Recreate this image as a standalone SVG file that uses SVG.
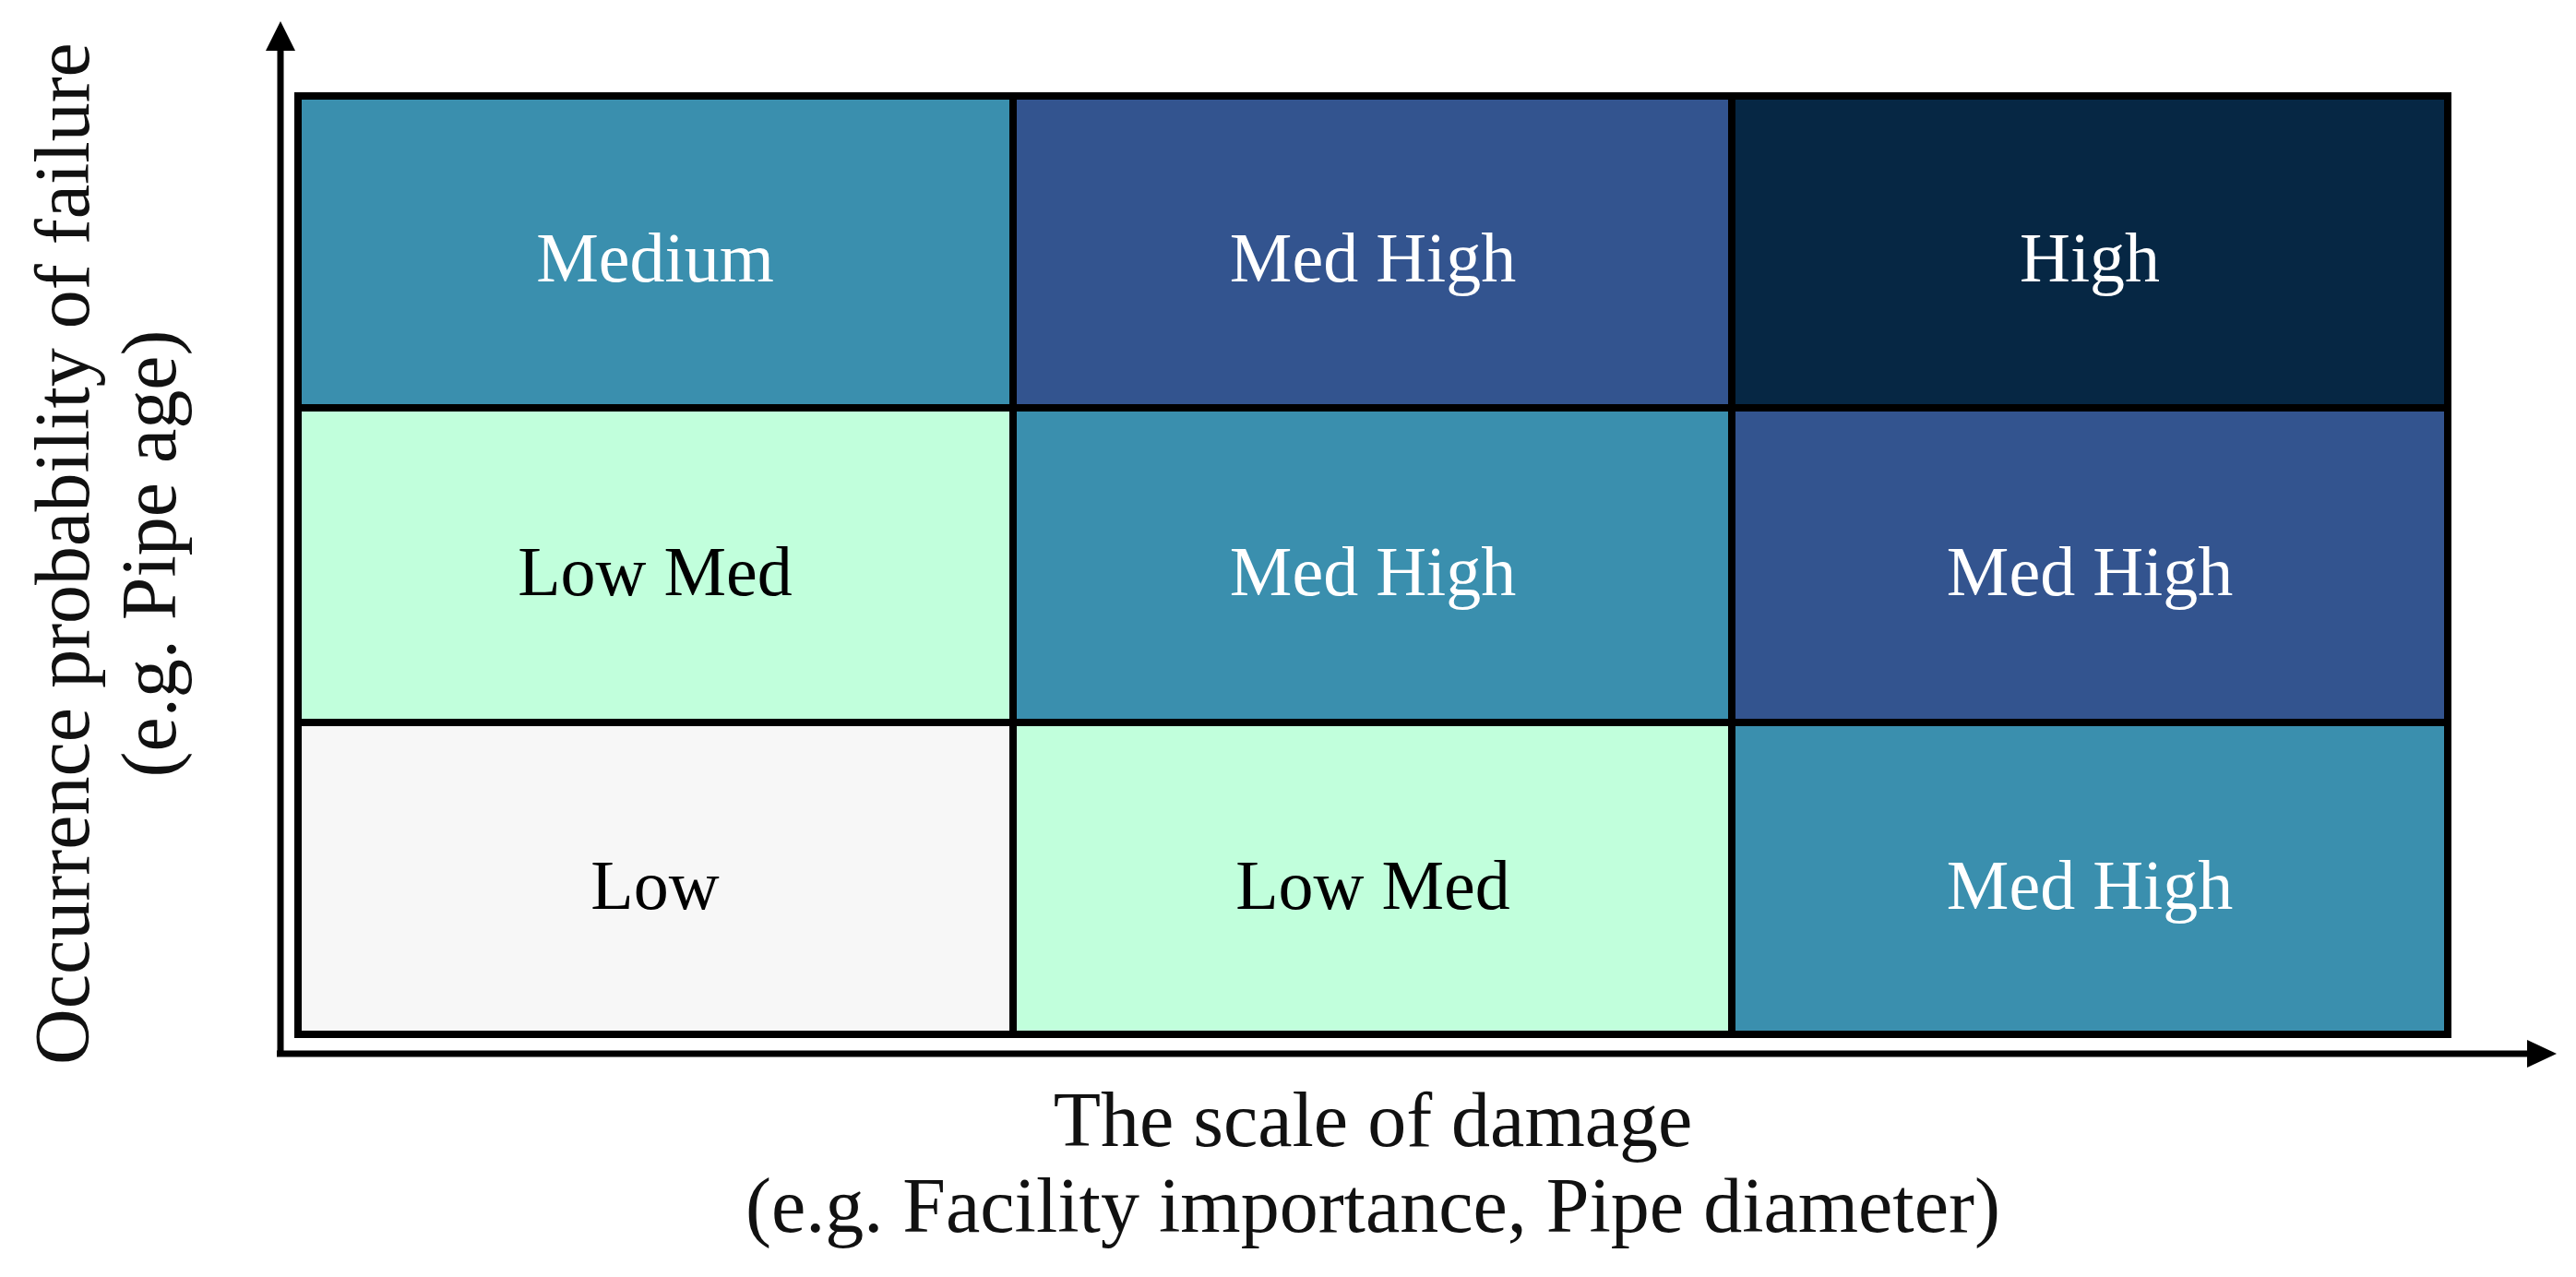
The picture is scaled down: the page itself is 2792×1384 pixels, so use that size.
<svg xmlns="http://www.w3.org/2000/svg" width="2792" height="1384" viewBox="0 0 2792 1384">
<defs>
<style>
.c{stroke:#000;stroke-width:8}
.t{font-family:"Liberation Serif",serif;font-size:76px;text-anchor:middle}
.w{fill:#fff}.k{fill:#000}
.a{font-family:"Liberation Serif",serif;font-size:84px;text-anchor:middle;fill:#111}
</style>
</defs>
<rect width="2792" height="1384" fill="#fff"/>
<g id="connectors">
<line x1="304" y1="50" x2="304" y2="1142" stroke="#000" stroke-width="7"/>
<polygon points="304,23 288,55 320,55"/>
<line x1="300" y1="1142" x2="2742" y2="1142" stroke="#000" stroke-width="7"/>
<polygon points="2771,1142 2739,1127 2739,1157"/>
</g>
<g id="cell-r1c1"><rect class="c" x="323" y="104" width="775" height="338" fill="#3A8FAE"/><text class="t w" x="710" y="305">Medium</text></g>
<g id="cell-r1c2"><rect class="c" x="1098" y="104" width="779" height="338" fill="#33548F"/><text class="t w" x="1488" y="305">Med High</text></g>
<g id="cell-r1c3"><rect class="c" x="1877" y="104" width="776" height="338" fill="#062744"/><text class="t w" x="2265" y="305">High</text></g>
<g id="cell-r2c1"><rect class="c" x="323" y="442" width="775" height="341" fill="#C1FFDC"/><text class="t k" x="710" y="645">Low Med</text></g>
<g id="cell-r2c2"><rect class="c" x="1098" y="442" width="779" height="341" fill="#3A8FAE"/><text class="t w" x="1488" y="645">Med High</text></g>
<g id="cell-r2c3"><rect class="c" x="1877" y="442" width="776" height="341" fill="#33548F"/><text class="t w" x="2265" y="645">Med High</text></g>
<g id="cell-r3c1"><rect class="c" x="323" y="783" width="775" height="338" fill="#F7F7F7"/><text class="t k" x="710" y="985">Low</text></g>
<g id="cell-r3c2"><rect class="c" x="1098" y="783" width="779" height="338" fill="#C1FFDC"/><text class="t k" x="1488" y="985">Low Med</text></g>
<g id="cell-r3c3"><rect class="c" x="1877" y="783" width="776" height="338" fill="#3A8FAE"/><text class="t w" x="2265" y="985">Med High</text></g>
<g id="x-label">
<text class="a" x="1488" y="1242">The scale of damage</text>
<text class="a" x="1488" y="1335">(e.g. Facility importance, Pipe diameter)</text>
</g>
<g id="y-label" transform="translate(96,600) rotate(-90)">
<text class="a" x="0" y="0">Occurrence probability of failure</text>
<text class="a" x="0" y="94">(e.g. Pipe age)</text>
</g>
</svg>
